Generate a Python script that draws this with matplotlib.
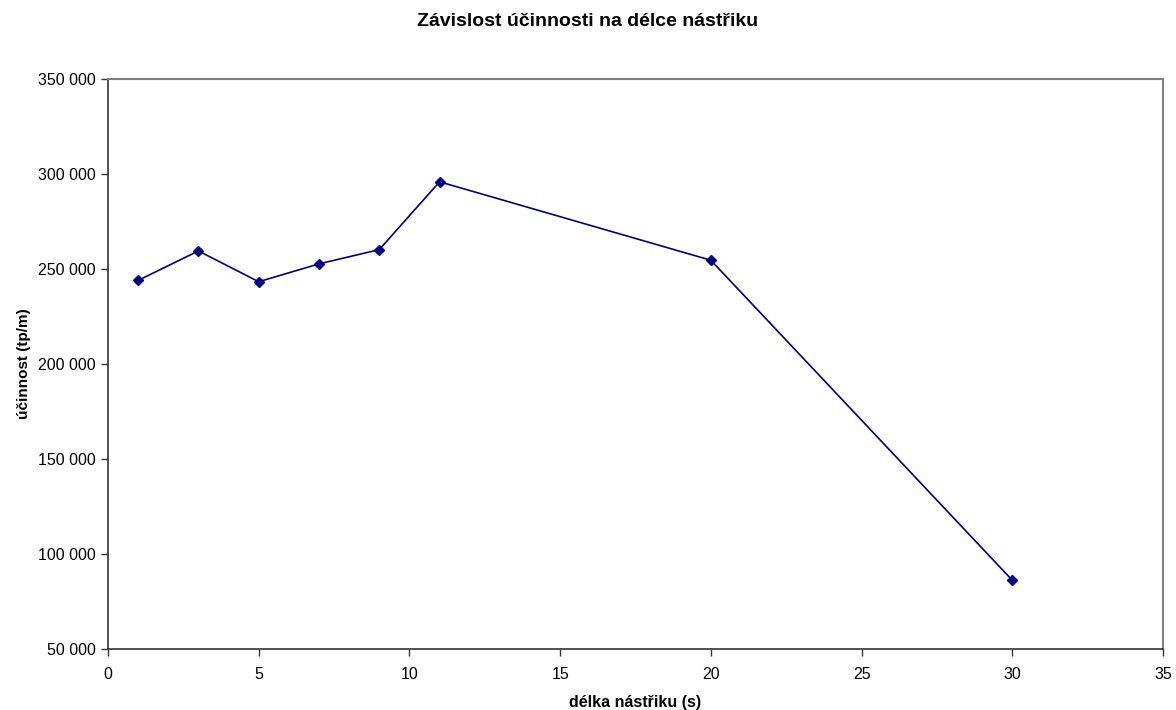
import matplotlib
matplotlib.use("Agg")
import matplotlib.pyplot as plt
from matplotlib.ticker import FuncFormatter, MultipleLocator

# data
delka = [1, 3, 5, 7, 9, 11, 20, 30]
ucinnost = [244000, 259500, 243300, 252700, 260200, 295900, 254600, 86200]

title = "Závislost účinnosti na délce nástřiku"
xlabel = "délka nástřiku (s)"
ylabel = "účinnost (tp/m)"

plt.rcParams["font.family"] = ["Liberation Sans", "DejaVu Sans"]

fig = plt.figure(figsize=(11.76, 7.10), dpi=100)
ax = fig.add_axes([108 / 1176, 61 / 710, 1055 / 1176, 570 / 710])

line_col = "#000080"
ax.plot(delka, ucinnost, color=line_col, lw=1.2, marker="D", ms=5.5,
        markeredgecolor=line_col, markerfacecolor=line_col)

ax.set_xlim(0, 35)
ax.set_ylim(50000, 350000)
ax.xaxis.set_major_locator(MultipleLocator(5))
ax.yaxis.set_major_locator(MultipleLocator(50000))
ax.yaxis.set_major_formatter(FuncFormatter(lambda v, p: f"{int(v):,}".replace(",", " ")))

for s in ["top", "right"]:
    ax.spines[s].set_color("#808080")
    ax.spines[s].set_linewidth(1.5)
for s in ["left", "bottom"]:
    ax.spines[s].set_color("#333333")
    ax.spines[s].set_linewidth(1.2)

ax.tick_params(direction="out", length=5, width=1, color="#333333", labelsize=11.5)
ax.tick_params(axis="x", pad=8)
ax.tick_params(axis="y", pad=4)

ax.set_xlabel(xlabel, fontsize=11.5, fontweight="bold", labelpad=9)
ax.set_ylabel(ylabel, fontsize=11, fontweight="bold", labelpad=5)
fig.suptitle(title, fontsize=14, fontweight="bold", y=0.982)

fig.savefig("out.png", dpi=100)
